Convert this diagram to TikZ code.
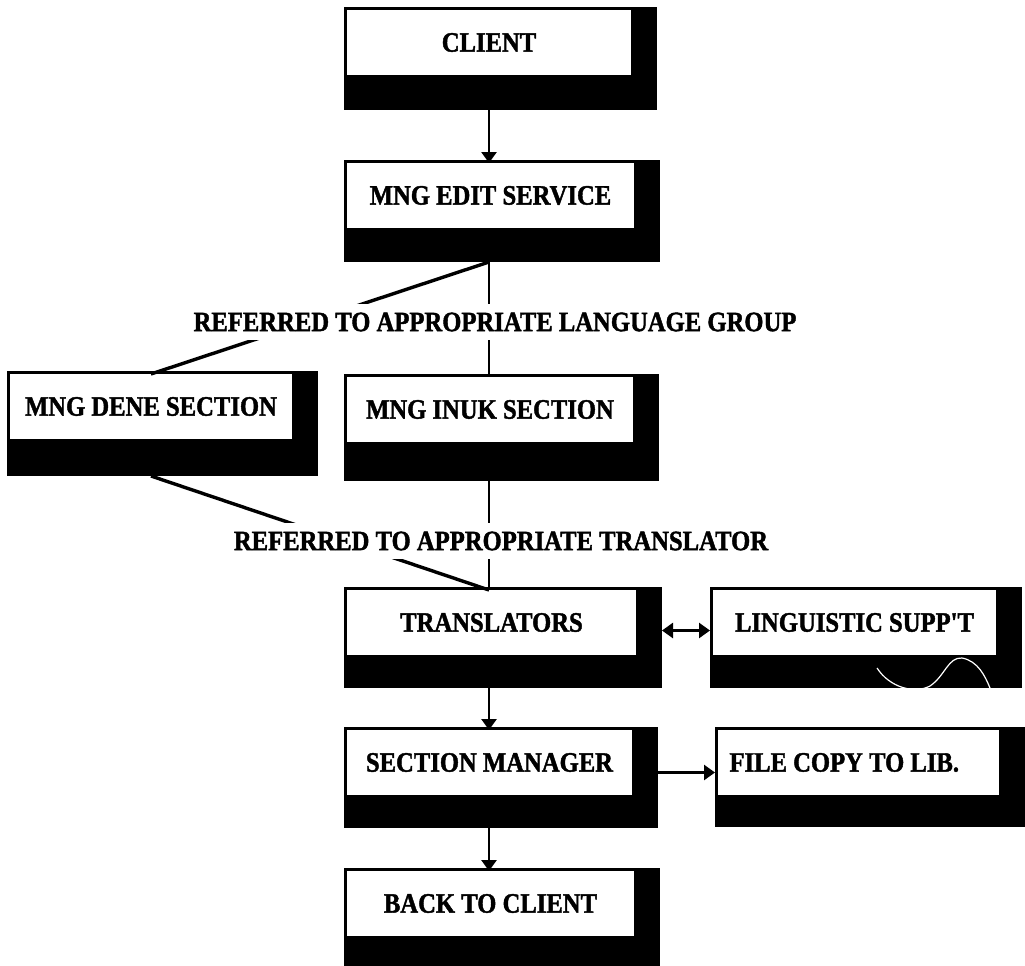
\documentclass[tikz,border=0pt]{standalone}
\usepackage{fontspec}
\usetikzlibrary{arrows.meta,calc}
\newfontfamily\boxfont{Liberation Serif}[FakeStretch=0.88, BoldFeatures={FakeBold=1.5}]

% one flow-chart panel: black backing with a white face carrying the text
% #1 name, #2 left, #3 top, #4 width, #5 height, #6 text
\newcommand\panel[6]{%
  \node[panel, minimum width={#4*1pt}, minimum height={#5*1pt}] (#1) at (#2,#3) {};
  \node[face, minimum width={(#4-29)*1pt}] (#1 face) at ([shift={(3pt,-3pt)}]#1.north west) {#6};
}

\tikzset{
  panel/.style={fill=black, inner sep=0pt, outer sep=0pt, anchor=north west},
  face/.style={fill=white, inner sep=0pt, outer sep=0pt, anchor=north west,
    minimum height=65pt, font=\boxfont\bfseries\fontsize{28pt}{30pt}\selectfont},
  wire/.style={line width=2.6pt},
  slant/.style={line width=3.4pt},
  tip/.tip={Triangle[width=15pt,length=11pt]},
  arrow/.style={wire, -tip},
  twoway/.style={wire, tip-tip},
  note/.style={fill=white, inner xsep=2pt, inner ysep=8.5pt,
    font=\boxfont\bfseries\fontsize{28pt}{30pt}\selectfont}
}

\begin{document}
\begin{tikzpicture}[x=1pt, y=-1pt]
\useasboundingbox[fill=white] (0,0) rectangle (1025,966);

% panels
\panel{client}{344}{7}{313}{103}{CLIENT}
\panel{edit}{344}{160}{316}{102}{MNG EDIT SERVICE}
\panel{dene}{7}{371}{311}{105}{MNG DENE SECTION}
\panel{inuk}{344}{374}{315}{107}{MNG INUK SECTION}
\panel{translators}{344}{587}{318}{101}{TRANSLATORS}
\panel{linguistic}{710}{587}{312}{101}{LINGUISTIC SUPP'T}
\panel{section}{344}{727}{314}{101}{SECTION MANAGER}
\panel{filecopy}{715}{727}{310}{100}{\makebox[258pt][l]{FILE COPY TO LIB.}}
\panel{back}{344}{868}{316}{98}{BACK TO CLIENT}

% connectors
\draw[arrow] (client.south -| client face.south) -- (client face.south |- edit face.north);
\draw[wire] (edit.south -| client face.south) -- (client face.south |- inuk face.north);
\draw[slant] (dene face.north) -- (edit.south -| client face.south);
\draw[wire] (inuk.south -| client face.south) -- (client face.south |- translators face.north);
\draw[slant] (dene.south -| dene face.south) -- (client face.south |- translators face.north);
\draw[twoway] ([yshift=7pt]translators.east) -- ([yshift=7pt]translators.east -| linguistic.west);
\draw[arrow] (translators.south -| client face.south) -- (client face.south |- section face.north);
\draw[arrow] ([yshift=5pt]section.east) -- ([yshift=5pt]section.east -| filecopy.west);
\draw[arrow] (section.south -| client face.south) -- (client face.south |- back face.north);

% labels sitting across the connectors
\node[note] (group) at (495,322) {REFERRED TO APPROPRIATE LANGUAGE GROUP};
\node[note] (assign) at (501,541) {REFERRED TO APPROPRIATE TRANSLATOR};

% thin white stroke across the lower band of the support panel
\draw[white, line width=1.2pt] (877,668) .. controls (890,688) and (915,694) .. (930,686)
  .. controls (945,676) and (948,657) .. (962,658)
  .. controls (978,661) and (985,676) .. (990,688);
\end{tikzpicture}
\end{document}
